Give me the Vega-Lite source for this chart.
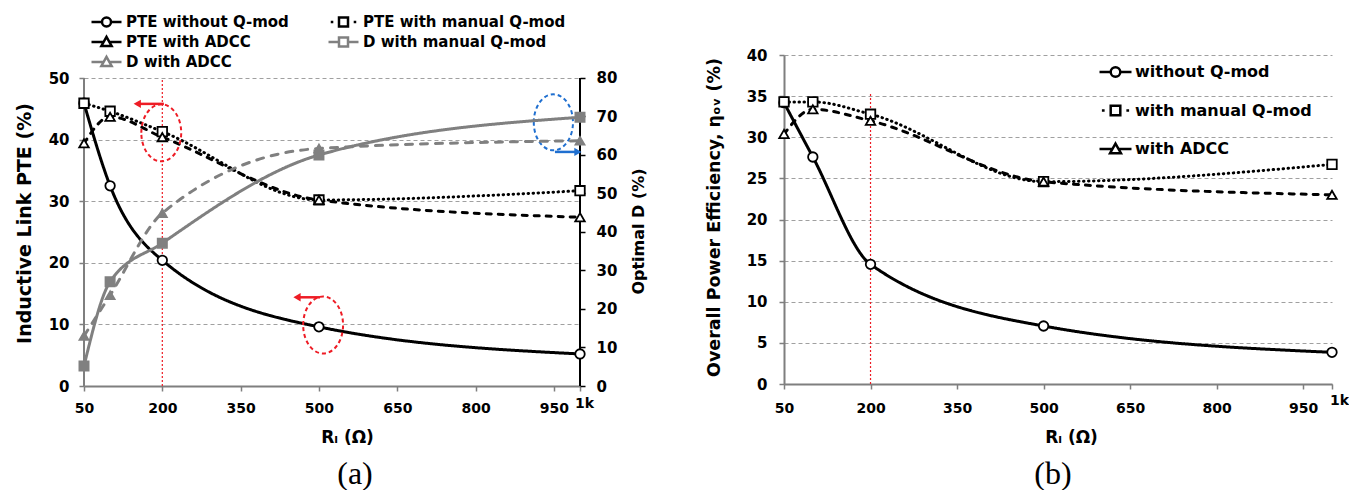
{
  "$schema": "https://vega.github.io/schema/vega-lite/v6.json",
  "background": "white",
  "padding": {"left": 15, "top": 14, "right": 0, "bottom": 0},
  "spacing": 58,
  "config": {
    "view": {"stroke": null},
    "font": "DejaVu Sans",
    "axis": {
      "labelFont": "DejaVu Sans", "labelFontWeight": "bold", "labelColor": "black",
      "titleFont": "DejaVu Sans", "titleFontWeight": "bold", "titleColor": "black",
      "domainColor": "#7f7f7f", "domainWidth": 2, "tickColor": "#7f7f7f", "tickWidth": 1.5, "tickSize": 5,
      "grid": false, "labelOverlap": false, "labelFlush": false
    },
    "legend": {"padding": 0, "labelFont": "DejaVu Sans", "labelFontWeight": "bold", "labelColor": "black", "symbolOpacity": 1, "labelLimit": 400}
  },
  "datasets": {
    "aPTE": [
      {"R": 50, "v": 45.9, "s": "PTE without Q-mod"},
      {"R": 100, "v": 32.5, "s": "PTE without Q-mod"},
      {"R": 200, "v": 20.4, "s": "PTE without Q-mod"},
      {"R": 500, "v": 9.6, "s": "PTE without Q-mod"},
      {"R": 1000, "v": 5.2, "s": "PTE without Q-mod"},
      {"R": 50, "v": 45.9, "s": "PTE with manual Q-mod"},
      {"R": 100, "v": 44.6, "s": "PTE with manual Q-mod"},
      {"R": 200, "v": 41.3, "s": "PTE with manual Q-mod"},
      {"R": 500, "v": 30.2, "s": "PTE with manual Q-mod"},
      {"R": 1000, "v": 31.7, "s": "PTE with manual Q-mod"},
      {"R": 50, "v": 39.4, "s": "PTE with ADCC"},
      {"R": 100, "v": 43.7, "s": "PTE with ADCC"},
      {"R": 200, "v": 40.4, "s": "PTE with ADCC"},
      {"R": 500, "v": 30.2, "s": "PTE with ADCC"},
      {"R": 1000, "v": 27.4, "s": "PTE with ADCC"}
    ],
    "aD": [
      {"R": 50, "v": 5.2, "s": "D with manual Q-mod"},
      {"R": 100, "v": 27.1, "s": "D with manual Q-mod"},
      {"R": 200, "v": 37.1, "s": "D with manual Q-mod"},
      {"R": 500, "v": 60.0, "s": "D with manual Q-mod"},
      {"R": 1000, "v": 69.8, "s": "D with manual Q-mod"},
      {"R": 50, "v": 13.0, "s": "D with ADCC"},
      {"R": 100, "v": 23.6, "s": "D with ADCC"},
      {"R": 200, "v": 44.9, "s": "D with ADCC"},
      {"R": 500, "v": 61.7, "s": "D with ADCC"},
      {"R": 1000, "v": 63.7, "s": "D with ADCC"}
    ],
    "b": [
      {"R": 50, "v": 34.2, "s": "without Q-mod"},
      {"R": 100, "v": 27.6, "s": "without Q-mod"},
      {"R": 200, "v": 14.55, "s": "without Q-mod"},
      {"R": 500, "v": 7.05, "s": "without Q-mod"},
      {"R": 1000, "v": 3.85, "s": "without Q-mod"},
      {"R": 50, "v": 34.3, "s": "with manual Q-mod"},
      {"R": 100, "v": 34.3, "s": "with manual Q-mod"},
      {"R": 200, "v": 32.8, "s": "with manual Q-mod"},
      {"R": 500, "v": 24.6, "s": "with manual Q-mod"},
      {"R": 1000, "v": 26.7, "s": "with manual Q-mod"},
      {"R": 50, "v": 30.4, "s": "with ADCC"},
      {"R": 100, "v": 33.4, "s": "with ADCC"},
      {"R": 200, "v": 32.0, "s": "with ADCC"},
      {"R": 500, "v": 24.6, "s": "with ADCC"},
      {"R": 1000, "v": 23.0, "s": "with ADCC"}
    ],
    "redEllipses": [{"R": 198, "v": 41.1}, {"R": 508, "v": 9.9}],
    "blueEllipse": [{"R": 949, "v": 42.8}],
    "redArrows": [{"R": 152, "R2": 203, "v": 45.8}, {"R": 458, "R2": 502, "v": 14.4}],
    "blueArrow": [{"R": 952, "R2": 996, "v": 38.0}]
  },
  "resolve": {
    "scale": {"stroke": "independent", "shape": "independent", "strokeDash": "independent", "fill": "independent"},
    "legend": {"stroke": "independent", "shape": "independent", "strokeDash": "independent", "fill": "independent"}
  },
  "hconcat": [
    {
      "width": 496,
      "height": 331,
      "title": {"text": "(a)", "orient": "bottom", "font": "Liberation Serif", "fontSize": 32, "fontWeight": "normal", "color": "black", "offset": 14, "dx": 23},
      "resolve": {"scale": {"y": "independent"}},
      "layer": [
        {
          "layer": [
            {
              "data": {"values": [{"R": 200, "lo": 0, "hi": 50}]},
              "mark": {"type": "rule", "color": "#ee1c25", "strokeDash": [2, 2], "strokeWidth": 1.2},
              "encoding": {
                "x": {"field": "R", "type": "quantitative", "scale": {"domain": [50, 1000], "nice": false, "zero": false},
                  "axis": {"values": [50, 200, 350, 500, 650, 800, 950, 1000], "labelExpr": "datum.value == 1000 ? '1k' : datum.label", "labelFontSize": 14,
                    "labelPadding": {"expr": "datum.value == 1000 ? 5 : 10"}, "labelOffset": {"expr": "datum.value == 1000 ? 4 : 0"},
                    "title": "Rₗ (Ω)", "titleFontSize": 17, "titlePadding": 14, "titleX": 263}},
                "y": {"field": "lo", "type": "quantitative", "scale": {"domain": [0, 53.7338], "nice": false},
                  "axis": {"values": [0, 10, 20, 30, 40, 50], "domain": false, "grid": true, "gridDash": [4, 3], "gridColor": "#a0a0a0", "gridWidth": 1,
                    "labelFontSize": 15, "labelPadding": 10, "title": "Inductive Link PTE (%)", "titleFontSize": 19, "titlePadding": 14, "titleY": 168}},
                "y2": {"field": "hi"}
              }
            },
            {
              "data": {"values": [{"R": 50, "lo": 0, "hi": 50}]},
              "mark": {"type": "rule", "color": "#7f7f7f", "strokeWidth": 2},
              "encoding": {"x": {"field": "R", "type": "quantitative"}, "y": {"field": "lo", "type": "quantitative"}, "y2": {"field": "hi"}}
            },
            {
              "data": {"values": [{"R": 1000, "lo": 0, "hi": 50}]},
              "mark": {"type": "rule", "color": "black", "strokeWidth": 2},
              "encoding": {"x": {"field": "R", "type": "quantitative"}, "y": {"field": "lo", "type": "quantitative"}, "y2": {"field": "hi"}}
            },
            {
              "data": {"name": "aPTE"},
              "mark": {"type": "line", "interpolate": "monotone", "strokeWidth": 3, "strokeCap": "round"},
              "encoding": {
                "x": {"field": "R", "type": "quantitative"},
                "y": {"field": "v", "type": "quantitative"},
                "stroke": {"field": "s", "type": "nominal",
                  "scale": {"domain": ["PTE without Q-mod", "PTE with ADCC", "D with ADCC", "PTE with manual Q-mod", "D with manual Q-mod"], "range": ["black", "black", "#808080", "black", "#808080"]},
                  "legend": {"orient": "none", "legendX": 6, "legendY": -41, "columns": 2, "columnPadding": 38, "rowPadding": 4, "clipHeight": 16, "title": null,
                    "labelFontSize": 15, "labelOffset": 3, "symbolSize": 900, "symbolStrokeWidth": 2.5,
                    "symbolType": {"expr": "['M-1,0H-0.3M0.3,0H1M-0.3,0A0.3,0.3,0,1,1,0.3,0A0.3,0.3,0,1,1,-0.3,0Z','M-1,0H-0.2M0.2,0H1M0,-0.34L0.34,0.26L-0.34,0.26Z','M-1,0H-0.2M0.2,0H1M0,-0.34L0.34,0.26L-0.34,0.26Z','M-0.85,0H-0.68M0.68,0H0.85M-0.3,-0.3H0.3V0.3H-0.3Z','M-1,0H-0.3M0.3,0H1M-0.3,-0.3H0.3V0.3H-0.3Z'][indexof(['PTE without Q-mod','PTE with ADCC','D with ADCC','PTE with manual Q-mod','D with manual Q-mod'], datum.value)]"},
                    "symbolFillColor": {"expr": "indexof(['D with manual Q-mod','D with ADCC'], datum.value) >= 0 ? '#808080' : 'white'"}}},
                "strokeDash": {"field": "s", "type": "nominal",
                  "scale": {"range": [[7, 8], [1, 0], [5, 7], [0.5, 4.5], [1, 0]]}, "legend": null}
              }
            },
            {
              "data": {"name": "aPTE"},
              "mark": {"type": "point", "filled": true, "fill": "white", "size": 90, "strokeWidth": 1.8, "opacity": 1},
              "encoding": {
                "x": {"field": "R", "type": "quantitative"},
                "y": {"field": "v", "type": "quantitative"},
                "stroke": {"field": "s", "type": "nominal",
                  "scale": {"domain": ["PTE without Q-mod", "PTE with ADCC", "D with ADCC", "PTE with manual Q-mod", "D with manual Q-mod"], "range": ["black", "black", "#808080", "black", "#808080"]},
                  "legend": {"orient": "none", "legendX": 6, "legendY": -41, "columns": 2, "columnPadding": 38, "rowPadding": 4, "clipHeight": 16, "title": null,
                    "labelFontSize": 15, "labelOffset": 3, "symbolSize": 900, "symbolStrokeWidth": 2.5,
                    "symbolType": {"expr": "['M-1,0H-0.3M0.3,0H1M-0.3,0A0.3,0.3,0,1,1,0.3,0A0.3,0.3,0,1,1,-0.3,0Z','M-1,0H-0.2M0.2,0H1M0,-0.34L0.34,0.26L-0.34,0.26Z','M-1,0H-0.2M0.2,0H1M0,-0.34L0.34,0.26L-0.34,0.26Z','M-0.85,0H-0.68M0.68,0H0.85M-0.3,-0.3H0.3V0.3H-0.3Z','M-1,0H-0.3M0.3,0H1M-0.3,-0.3H0.3V0.3H-0.3Z'][indexof(['PTE without Q-mod','PTE with ADCC','D with ADCC','PTE with manual Q-mod','D with manual Q-mod'], datum.value)]"},
                    "symbolFillColor": {"expr": "indexof(['D with manual Q-mod','D with ADCC'], datum.value) >= 0 ? '#808080' : 'white'"}}},
                "shape": {"field": "s", "type": "nominal",
                  "scale": {"range": ["triangle-up", "square", "triangle-up", "square", "circle"]}, "legend": null}
              }
            },
            {
              "data": {"name": "redEllipses"},
              "mark": {"type": "point", "shape": "M-0.7,0A0.7,1,0,1,1,0.7,0A0.7,1,0,1,1,-0.7,0Z", "size": 3249, "filled": false, "stroke": "#ee1c25", "strokeWidth": 2, "strokeDash": [4, 3], "opacity": 1},
              "encoding": {"x": {"field": "R", "type": "quantitative"}, "y": {"field": "v", "type": "quantitative"}}
            },
            {
              "data": {"name": "blueEllipse"},
              "mark": {"type": "point", "shape": "M-0.7,0A0.7,1,0,1,1,0.7,0A0.7,1,0,1,1,-0.7,0Z", "size": 3136, "filled": false, "stroke": "#1f6fd0", "strokeWidth": 2, "strokeDash": [4, 3], "opacity": 1},
              "encoding": {"x": {"field": "R", "type": "quantitative"}, "y": {"field": "v", "type": "quantitative"}}
            },
            {
              "data": {"name": "redArrows"},
              "mark": {"type": "rule", "color": "#ee1c25", "strokeWidth": 2.5},
              "encoding": {"x": {"field": "R", "type": "quantitative"}, "x2": {"field": "R2"}, "y": {"field": "v", "type": "quantitative"}}
            },
            {
              "data": {"name": "redArrows"},
              "mark": {"type": "point", "shape": "triangle-left", "size": 70, "filled": true, "color": "#ee1c25", "opacity": 1},
              "encoding": {"x": {"field": "R", "type": "quantitative"}, "y": {"field": "v", "type": "quantitative"}}
            },
            {
              "data": {"name": "blueArrow"},
              "mark": {"type": "rule", "color": "#1f6fd0", "strokeWidth": 2.5},
              "encoding": {"x": {"field": "R", "type": "quantitative"}, "x2": {"field": "R2"}, "y": {"field": "v", "type": "quantitative"}}
            },
            {
              "data": {"name": "blueArrow"},
              "mark": {"type": "point", "shape": "triangle-right", "size": 70, "filled": true, "color": "#1f6fd0", "opacity": 1},
              "encoding": {"x": {"field": "R2", "type": "quantitative"}, "y": {"field": "v", "type": "quantitative"}}
            }
          ]
        },
        {
          "layer": [
            {
              "data": {"name": "aD"},
              "mark": {"type": "line", "interpolate": "monotone", "strokeWidth": 3, "strokeCap": "round"},
              "encoding": {
                "x": {"field": "R", "type": "quantitative"},
                "y": {"field": "v", "type": "quantitative", "scale": {"domain": [0, 85.974], "nice": false},
                  "axis": {"orient": "right", "values": [0, 10, 20, 30, 40, 50, 60, 70, 80], "domain": false, "tickColor": "black",
                    "labelFontSize": 15, "labelPadding": 11, "title": "Optimal D (%)", "titleAngle": 270, "titleFontSize": 16, "titlePadding": 30, "titleY": 176}},
                "stroke": {"field": "s", "type": "nominal",
                  "scale": {"domain": ["PTE without Q-mod", "PTE with ADCC", "D with ADCC", "PTE with manual Q-mod", "D with manual Q-mod"], "range": ["black", "black", "#808080", "black", "#808080"]},
                  "legend": {"orient": "none", "legendX": 6, "legendY": -41, "columns": 2, "columnPadding": 38, "rowPadding": 4, "clipHeight": 16, "title": null,
                    "labelFontSize": 15, "labelOffset": 3, "symbolSize": 900, "symbolStrokeWidth": 2.5,
                    "symbolType": {"expr": "['M-1,0H-0.3M0.3,0H1M-0.3,0A0.3,0.3,0,1,1,0.3,0A0.3,0.3,0,1,1,-0.3,0Z','M-1,0H-0.2M0.2,0H1M0,-0.34L0.34,0.26L-0.34,0.26Z','M-1,0H-0.2M0.2,0H1M0,-0.34L0.34,0.26L-0.34,0.26Z','M-0.85,0H-0.68M0.68,0H0.85M-0.3,-0.3H0.3V0.3H-0.3Z','M-1,0H-0.3M0.3,0H1M-0.3,-0.3H0.3V0.3H-0.3Z'][indexof(['PTE without Q-mod','PTE with ADCC','D with ADCC','PTE with manual Q-mod','D with manual Q-mod'], datum.value)]"},
                    "symbolFillColor": {"expr": "indexof(['D with manual Q-mod','D with ADCC'], datum.value) >= 0 ? '#808080' : 'white'"}}},
                "strokeDash": {"field": "s", "type": "nominal",
                  "scale": {"range": [[7, 8], [1, 0], [5, 7], [0.5, 4.5], [1, 0]]}, "legend": null}
              }
            },
            {
              "data": {"name": "aD"},
              "mark": {"type": "point", "filled": true, "fill": "#808080", "size": 90, "strokeWidth": 1.5, "opacity": 1},
              "encoding": {
                "x": {"field": "R", "type": "quantitative"},
                "y": {"field": "v", "type": "quantitative"},
                "stroke": {"field": "s", "type": "nominal",
                  "scale": {"domain": ["PTE without Q-mod", "PTE with ADCC", "D with ADCC", "PTE with manual Q-mod", "D with manual Q-mod"], "range": ["black", "black", "#808080", "black", "#808080"]},
                  "legend": {"orient": "none", "legendX": 6, "legendY": -41, "columns": 2, "columnPadding": 38, "rowPadding": 4, "clipHeight": 16, "title": null,
                    "labelFontSize": 15, "labelOffset": 3, "symbolSize": 900, "symbolStrokeWidth": 2.5,
                    "symbolType": {"expr": "['M-1,0H-0.3M0.3,0H1M-0.3,0A0.3,0.3,0,1,1,0.3,0A0.3,0.3,0,1,1,-0.3,0Z','M-1,0H-0.2M0.2,0H1M0,-0.34L0.34,0.26L-0.34,0.26Z','M-1,0H-0.2M0.2,0H1M0,-0.34L0.34,0.26L-0.34,0.26Z','M-0.85,0H-0.68M0.68,0H0.85M-0.3,-0.3H0.3V0.3H-0.3Z','M-1,0H-0.3M0.3,0H1M-0.3,-0.3H0.3V0.3H-0.3Z'][indexof(['PTE without Q-mod','PTE with ADCC','D with ADCC','PTE with manual Q-mod','D with manual Q-mod'], datum.value)]"},
                    "symbolFillColor": {"expr": "indexof(['D with manual Q-mod','D with ADCC'], datum.value) >= 0 ? '#808080' : 'white'"}}},
                "shape": {"field": "s", "type": "nominal",
                  "scale": {"range": ["triangle-up", "square", "triangle-up", "square", "circle"]}, "legend": null}
              }
            }
          ]
        }
      ]
    },
    {
      "width": 548,
      "height": 329,
      "title": {"text": "(b)", "orient": "bottom", "font": "Liberation Serif", "fontSize": 32, "fontWeight": "normal", "color": "black", "offset": 14, "dx": -5},
      "layer": [
        {
          "data": {"values": [{"R": 200, "lo": 0, "hi": 35.4}]},
          "mark": {"type": "rule", "color": "#ee1c25", "strokeDash": [2, 2], "strokeWidth": 1.2},
          "encoding": {
            "x": {"field": "R", "type": "quantitative", "scale": {"domain": [50, 1000], "nice": false, "zero": false},
              "axis": {"values": [50, 200, 350, 500, 650, 800, 950, 1000], "labelExpr": "datum.value == 1000 ? '1k' : datum.label", "labelFontSize": 14,
                "labelPadding": {"expr": "datum.value == 1000 ? 4 : 12"}, "labelOffset": {"expr": "datum.value == 1000 ? 7 : 0"},
                "title": "Rₗ (Ω)", "titleFontSize": 17, "titlePadding": 14, "titleX": 287}},
            "y": {"field": "lo", "type": "quantitative", "scale": {"domain": [0, 40], "nice": false},
              "axis": {"values": [0, 5, 10, 15, 20, 25, 30, 35, 40], "grid": true, "gridDash": [4, 3], "gridColor": "#a0a0a0", "gridWidth": 1,
                "labelFontSize": 15, "labelPadding": 12, "title": "Overall Power Efficiency, ηₒᵥ (%)", "titleFontSize": 17.5, "titlePadding": 23, "titleY": 162}},
            "y2": {"field": "hi"}
          }
        },
        {
          "data": {"name": "b"},
          "mark": {"type": "line", "interpolate": "monotone", "strokeWidth": 3, "strokeCap": "round"},
          "encoding": {
            "x": {"field": "R", "type": "quantitative"},
            "y": {"field": "v", "type": "quantitative"},
            "stroke": {"field": "s", "type": "nominal",
              "scale": {"domain": ["without Q-mod", "with manual Q-mod", "with ADCC"], "range": ["black", "black", "black"]},
              "legend": {"orient": "none", "legendX": 314, "legendY": 8, "columns": 1, "rowPadding": 20.5, "clipHeight": 18, "title": null,
                "labelFontSize": 16, "labelOffset": 2, "symbolSize": 1024, "symbolStrokeWidth": 2.5,
                "symbolType": {"expr": "['M-1,0H-0.3M0.3,0H1M-0.3,0A0.3,0.3,0,1,1,0.3,0A0.3,0.3,0,1,1,-0.3,0Z','M-0.85,0H-0.68M0.68,0H0.85M-0.3,-0.3H0.3V0.3H-0.3Z','M-1,0H-0.2M0.2,0H1M0,-0.34L0.34,0.26L-0.34,0.26Z'][indexof(['without Q-mod','with manual Q-mod','with ADCC'], datum.value)]"},
                "symbolFillColor": "white"}},
            "strokeDash": {"field": "s", "type": "nominal",
              "scale": {"range": [[5, 7], [0.5, 4.5], [1, 0]]}, "legend": null}
          }
        },
        {
          "data": {"name": "b"},
          "mark": {"type": "point", "filled": true, "fill": "white", "size": 90, "strokeWidth": 1.8, "opacity": 1},
          "encoding": {
            "x": {"field": "R", "type": "quantitative"},
            "y": {"field": "v", "type": "quantitative"},
            "stroke": {"field": "s", "type": "nominal",
              "scale": {"domain": ["without Q-mod", "with manual Q-mod", "with ADCC"], "range": ["black", "black", "black"]},
              "legend": {"orient": "none", "legendX": 314, "legendY": 8, "columns": 1, "rowPadding": 20.5, "clipHeight": 18, "title": null,
                "labelFontSize": 16, "labelOffset": 2, "symbolSize": 1024, "symbolStrokeWidth": 2.5,
                "symbolType": {"expr": "['M-1,0H-0.3M0.3,0H1M-0.3,0A0.3,0.3,0,1,1,0.3,0A0.3,0.3,0,1,1,-0.3,0Z','M-0.85,0H-0.68M0.68,0H0.85M-0.3,-0.3H0.3V0.3H-0.3Z','M-1,0H-0.2M0.2,0H1M0,-0.34L0.34,0.26L-0.34,0.26Z'][indexof(['without Q-mod','with manual Q-mod','with ADCC'], datum.value)]"},
                "symbolFillColor": "white"}},
            "shape": {"field": "s", "type": "nominal",
              "scale": {"range": ["triangle-up", "square", "circle"]}, "legend": null}
          }
        }
      ]
    }
  ]
}
